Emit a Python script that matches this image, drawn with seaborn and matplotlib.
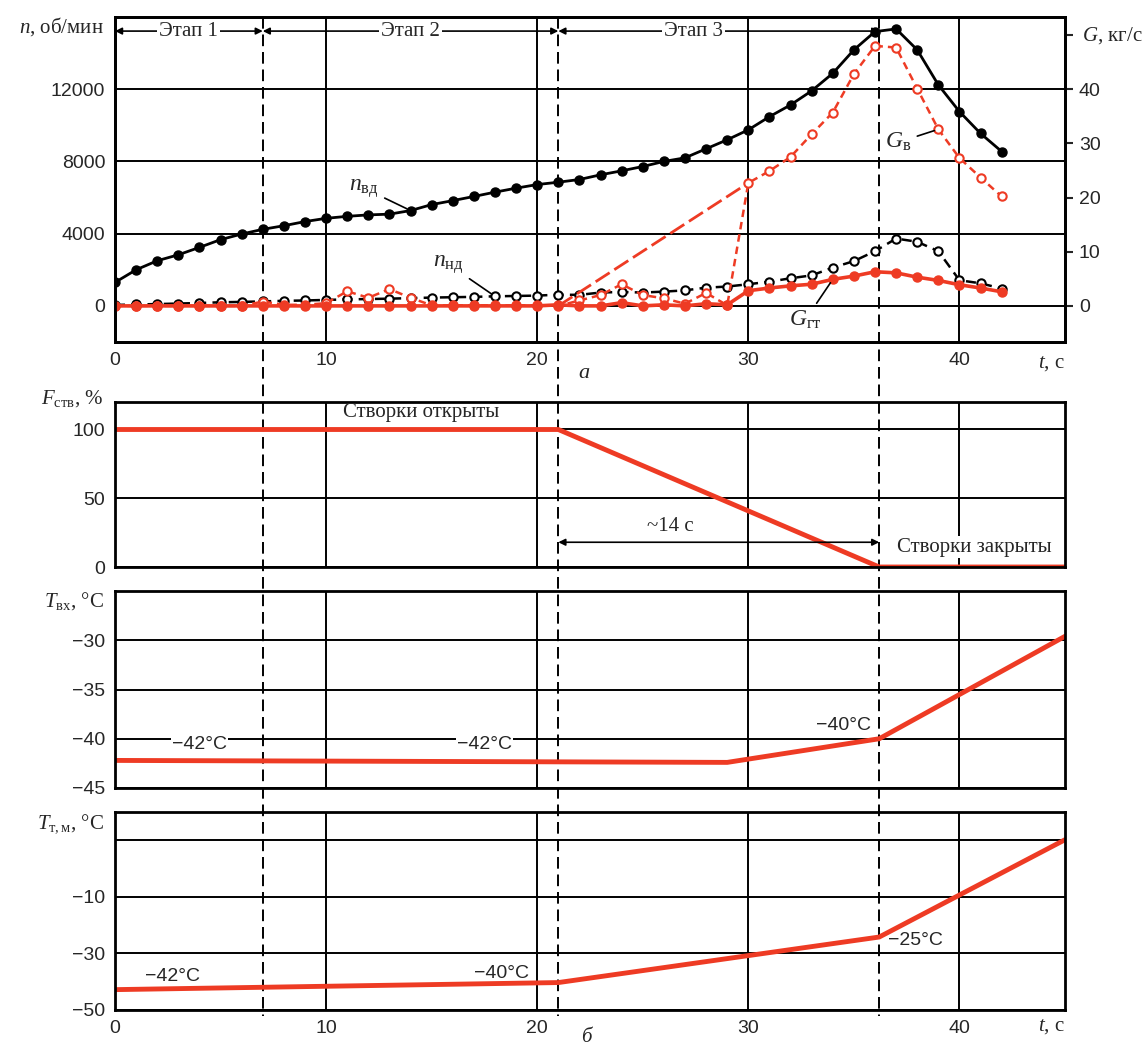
#%% библиотеки
import numpy as np
import seaborn as sns
import matplotlib.pyplot as plt
import matplotlib.transforms as mtransforms
from matplotlib.lines import Line2D

#%% данные
t = np.arange(0, 43)   # время, с

n_vd = [1300, 2000, 2500, 2830, 3240, 3670, 3980, 4240, 4440, 4670, 4850,
        4960, 5040, 5080, 5280, 5610, 5830, 6060, 6300, 6520, 6720, 6850,
        7000, 7260, 7480, 7720, 8000, 8200, 8700, 9200, 9750, 10480, 11130,
        11910, 12880, 14180, 15190, 15340, 14180, 12240, 10760, 9550, 8550]
n_nd = [50, 80, 100, 130, 160, 200, 220, 250, 280, 300, 330, 360, 380, 400,
        430, 460, 480, 500, 530, 550, 570, 620, 610, 740, 770, 740, 790, 860,
        1010, 1070, 1200, 1340, 1530, 1690, 2120, 2480, 3030, 3730, 3550,
        3030, 1420, 1250, 960]
g_v = [0, 0, 0, 0, 0, 0, 0, 0.8, 0.2, 0.2, 0.5, 2.7, 1.5, 3.1, 1.5,
       0.1, 0.1, 0.1, 0.1, 0.1, 0.1, 0, 1.0, 2.0, 4.0, 2.0, 1.4, 0.4, 2.4,
       0.1, 22.7, 24.9, 27.5, 31.7, 35.7, 42.8, 48.0, 47.7, 40.1, 32.6,
       27.3, 23.7, 20.2]
g_gt = [0] * 21 + [0.2, 0, 0, 0.6, 0, 0.2, 0, 0.4, 0.2, 2.8, 3.3, 3.7, 4.0,
                   4.9, 5.5, 6.3, 6.1, 5.3, 4.7, 3.9, 3.3, 2.6]
g_env_t = [21, 30]
g_env = [0, 22.7]

stage_edges = [0, 7, 21, 36.2]
stage_names = ['Этап 1', 'Этап 2', 'Этап 3']
stage_text_x = [3.5, 14, 27.4]

f_t = [0, 21, 36.2, 45]
f_stv = [100, 100, 0, 0]
tvx_t = [0, 29, 36.2, 45]
t_vx = [-42.2, -42.4, -40, -29.6]
ttm_t = [0, 21, 36.2, 45]
t_tm = [-42.8, -40.3, -24.2, 10.2]

RED = '#ee3b24'
SERIF = ['Liberation Serif', 'DejaVu Serif']

#%% стиль
sns.set_theme(style='white')
plt.rcParams['font.family'] = ['Liberation Sans', 'DejaVu Sans']
plt.rcParams['mathtext.fontset'] = 'custom'
plt.rcParams['mathtext.rm'] = 'Liberation Serif'
plt.rcParams['mathtext.it'] = 'Liberation Serif:italic'
plt.rcParams['axes.unicode_minus'] = True

fig = plt.figure(figsize=(11.48, 10.52), dpi=100)
W_PX, H_PX = 1148, 1052


def box(top, bottom):
    return [115 / W_PX, 1 - bottom / H_PX, 950 / W_PX, (bottom - top) / H_PX]


ax = fig.add_axes(box(17, 342))
ax_f = fig.add_axes(box(402, 567))
ax_vx = fig.add_axes(box(591, 788))
ax_tm = fig.add_axes(box(812, 1010))


def frame(a, ylim, yticks, ylabels=None, xlabels=False):
    a.set_xlim(0, 45)
    a.set_ylim(*ylim)
    a.set_xticks([0, 10, 20, 30, 40])
    a.set_yticks(yticks)
    if ylabels is not None:
        a.set_yticklabels(ylabels)
    if not xlabels:
        a.set_xticklabels([])
    a.grid(True, color='black', lw=1.4)
    a.set_axisbelow(True)
    a.tick_params(length=0, labelsize=14, pad=7)
    for s in a.spines.values():
        s.set_color('black')
        s.set_linewidth(2)
    a.patch.set_visible(False)
    a.set_xlabel('')
    a.set_ylabel('')


#%% панель а: частоты вращения и расходы
sns.lineplot(x=t, y=n_vd, ax=ax, color='black', lw=2, marker='o',
             markersize=6.5, markeredgecolor='black', markeredgewidth=1)
sns.lineplot(x=t, y=n_nd, ax=ax, color='black', lw=1.8, linestyle=(0, (4, 2.5)),
             marker='o', markersize=6, markerfacecolor='white',
             markeredgecolor='black', markeredgewidth=1.5)
frame(ax, (-2000, 16000), [0, 4000, 8000, 12000], xlabels=True)

ax2 = ax.twinx()
sns.lineplot(x=g_env_t, y=g_env, ax=ax2, color=RED, lw=2,
             linestyle=(0, (6, 2)))
sns.lineplot(x=t, y=g_v, ax=ax2, color=RED, lw=1.8, linestyle=(0, (3, 2)),
             marker='o', markersize=6, markerfacecolor='white',
             markeredgecolor=RED, markeredgewidth=1.5)
sns.lineplot(x=t, y=g_gt, ax=ax2, color=RED, lw=2.6, marker='o',
             markersize=6.5, markeredgecolor=RED, markeredgewidth=1)
ax2.set_ylim(-2000 / 300, 16000 / 300)
ax2.set_yticks([0, 10, 20, 30, 40, 50])
ax2.set_yticklabels(['0', '10', '20', '30', '40', ''])
ax2.tick_params(axis='y', direction='out', length=6, width=1.5,
                labelsize=14, pad=4)
ax2.grid(False)
ax2.set_ylabel('')
for s in ax2.spines.values():
    s.set_color('black')
    s.set_linewidth(2)

ax.text(-0.012, 0.97, r'$n$, об/мин', transform=ax.transAxes, ha='right',
        va='center', fontsize=15, family=SERIF)
ax2.text(1.018, 50, r'$G$, кг/с', transform=ax2.get_yaxis_transform(),
         ha='left', va='center', fontsize=15, family=SERIF)
ax.text(1.0, -0.065, r'$t$, с', transform=ax.transAxes, ha='right',
        va='center', fontsize=15, family=SERIF)

# этапы
y_st = 15220
for x0, x1, xt, name in zip(stage_edges[:-1], stage_edges[1:],
                            stage_text_x, stage_names):
    ax.annotate('', xy=(x0, y_st), xytext=(x1, y_st),
                arrowprops=dict(arrowstyle='<|-|>', color='black', lw=1.2,
                                shrinkA=0, shrinkB=0, mutation_scale=10))
    ax.text(xt, y_st, name, ha='center', va='center', fontsize=15,
            family=SERIF, bbox=dict(fc='white', ec='none', pad=1.5))

lead = dict(arrowstyle='-', color='black', lw=1.2, shrinkA=2, shrinkB=3)
ax.annotate(r'$n_{\mathrm{вд}}$', xy=(14, 5280), xytext=(11.8, 6520),
            ha='center', va='center', fontsize=17, arrowprops=lead)
ax.annotate(r'$n_{\mathrm{нд}}$', xy=(18, 530), xytext=(15.8, 2300),
            ha='center', va='center', fontsize=17, arrowprops=lead)
ax2.annotate(r'$G_{\mathrm{в}}$', xy=(39, 32.6), xytext=(37.1, 30.2),
             ha='center', va='center', fontsize=17, arrowprops=lead)
ax2.annotate(r'$G_{\mathrm{гт}}$', xy=(34, 4.9), xytext=(32.7, -2.6),
             ha='center', va='center', fontsize=17, arrowprops=lead)

#%% панель б: створки
sns.lineplot(x=f_t, y=f_stv, ax=ax_f, color=RED, lw=3.5)
frame(ax_f, (0, 120), [0, 50, 100])
ax_f.text(-0.012, 1.02, r'$F_{\mathrm{ств}}$, %', transform=ax_f.transAxes,
          ha='right', va='center', fontsize=15, family=SERIF)
ax_f.text(14.5, 112, 'Створки открыты', ha='center', va='center',
          fontsize=15, family=SERIF)
ax_f.annotate('', xy=(21, 18), xytext=(36.2, 18),
              arrowprops=dict(arrowstyle='<|-|>', color='black', lw=1.2,
                              shrinkA=0, shrinkB=0, mutation_scale=10))
ax_f.text(26.3, 29.5, '~14 с', ha='center', va='center', fontsize=15,
          family=SERIF)
ax_f.text(40.7, 14.5, 'Створки закрыты', ha='center', va='center',
          fontsize=15, family=SERIF, bbox=dict(fc='white', ec='none', pad=1))

#%% температура на входе
sns.lineplot(x=tvx_t, y=t_vx, ax=ax_vx, color=RED, lw=3.5)
frame(ax_vx, (-45, -25), [-45, -40, -35, -30])
ax_vx.text(-0.012, 0.95, r'$T_{\mathrm{вх}}$, °C', transform=ax_vx.transAxes,
           ha='right', va='center', fontsize=15, family=SERIF)
lbl = dict(ha='center', va='center', fontsize=14,
           bbox=dict(fc='white', ec='none', pad=1))
ax_vx.text(4.0, -40.6, '−42°C', **lbl)
ax_vx.text(17.5, -40.6, '−42°C', **lbl)
ax_vx.text(34.5, -38.7, '−40°C', ha='center', va='center', fontsize=14)

#%% температура масла
sns.lineplot(x=ttm_t, y=t_tm, ax=ax_tm, color=RED, lw=3.5)
frame(ax_tm, (-50, 20), [-50, -30, -10, 10], ['−50', '−30', '−10', ''],
      xlabels=True)
ax_tm.text(-0.012, 0.94, r'$T_{\mathrm{т,м}}$, °C', transform=ax_tm.transAxes,
           ha='right', va='center', fontsize=15, family=SERIF)
ax_tm.text(1.0, -0.085, r'$t$, с', transform=ax_tm.transAxes, ha='right',
           va='center', fontsize=15, family=SERIF)
ax_tm.text(2.7, -38.2, '−42°C', ha='center', va='center', fontsize=14)
ax_tm.text(18.3, -37.0, '−40°C', ha='center', va='center', fontsize=14)
ax_tm.text(37.9, -25.3, '−25°C', ha='center', va='center', fontsize=14)

#%% штриховые границы этапов через все панели
trans = mtransforms.blended_transform_factory(ax.transData, fig.transFigure)
for x in stage_edges[1:]:
    fig.add_artist(Line2D([x, x], [1 - 17 / H_PX, 1 - 1016 / H_PX],
                          transform=trans, color='black', lw=1.4,
                          ls=(0, (6, 3)), zorder=-1))

fig.text(584 / W_PX, 1 - 373 / H_PX, 'а', ha='center', va='center',
         fontsize=16, style='italic', family=SERIF)
fig.text(586 / W_PX, 1 - 1038 / H_PX, 'б', ha='center', va='center',
         fontsize=15, style='italic', family=SERIF)

fig.savefig('out.png', dpi=100, facecolor='white')
